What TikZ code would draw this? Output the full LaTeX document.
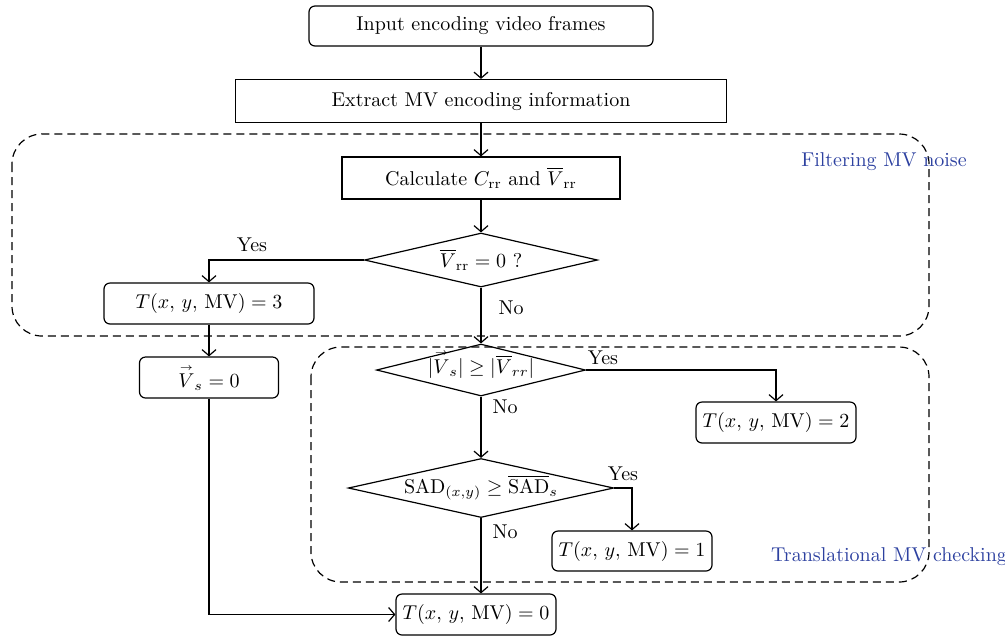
\documentclass[tikz,border=0pt]{standalone}
\usepackage{amsmath}
\usetikzlibrary{shapes.geometric,arrows.meta}
\definecolor{lblue}{RGB}{45,65,160}
\newcommand{\vecV}{\overset{\scriptscriptstyle\rightarrow}{V}}
\tikzset{
  every node/.style={font=\fontsize{10}{12}\selectfont},
  rbox/.style={draw, rounded corners=3pt, line width=0.6pt, inner sep=0pt, align=center},
  sbox/.style={draw, line width=0.6pt, inner sep=0pt, align=center},
  dec/.style={draw, diamond, aspect=4.5, inner sep=0pt, line width=0.6pt},
  arr/.style={line width=0.6pt, -{Straight Barb[length=3pt,width=7pt]}},
  grp/.style={draw, dash pattern=on 4pt off 2.5pt, line width=0.6pt, rounded corners=15pt},
  grplabel/.style={text=lblue, inner sep=0pt},
  yn/.style={inner sep=0pt}
}
\begin{document}
\begin{tikzpicture}[x=0.5pt,y=-0.5pt]
\useasboundingbox (0,0) rectangle (1005,639);
% group regions
\draw[grp] (12,134) rectangle (929,336);
\draw[grp] (311,347) rectangle (929,582);
\node[grplabel] (lf) at (884,162) {Filtering MV noise};
\node[grplabel] (lt) at (889,557) {Translational MV checking};
% nodes
\node[rbox, minimum width=172pt, minimum height=20pt] (in) at (481,26) {Input encoding video frames};
\node[sbox, minimum width=245.5pt, minimum height=21.5pt] (ex) at (481,101) {Extract MV encoding information};
\node[sbox, minimum width=139pt, minimum height=21pt] (calc) at (481,178) {Calculate $C_{\mathrm{rr}}$ and $\overline{V}_{\mathrm{rr}}$};
\node[dec, minimum width=116.5pt, minimum height=27pt] (d1) at (481,260) {$\overline{V}_{\mathrm{rr}} = 0$ ?};
\node[rbox, minimum width=105pt, minimum height=20.5pt] (t3) at (209,303.5) {$T(x,\,y,\,\mathrm{MV}) = 3$};
\node[rbox, minimum width=69.5pt, minimum height=20.5pt] (vs) at (209,377.5) {$\vecV_{s} = 0$};
\node[dec, minimum width=104.5pt, minimum height=26pt, text height=5pt, text depth=2pt] (d2) at (481,370) {$|\vecV_{s}| \geq |\overline{V}_{rr}|$};
\node[rbox, minimum width=80pt, minimum height=20.5pt] (t2) at (776,422.5) {$T(x,\,y,\,\mathrm{MV}) = 2$};
\node[dec, minimum width=128pt, minimum height=26pt] (d3) at (481,488) {$\mathrm{SAD}_{(x,y)} \geq \overline{\mathrm{SAD}}_s$};
\node[rbox, minimum width=80pt, minimum height=20pt] (t1) at (632,551) {$T(x,\,y,\,\mathrm{MV}) = 1$};
\node[rbox, minimum width=80pt, minimum height=20.5pt] (t0) at (476,614.5) {$T(x,\,y,\,\mathrm{MV}) = 0$};
% connectors
\draw[arr] (in) -- (ex);
\draw[arr] (ex) -- (calc);
\draw[arr] (calc) -- (d1);
\draw[arr] (d1.west) -| (t3.north);
\draw[arr] (t3.south) -- (vs.north);
\draw[arr] (d1.south) -- (d2.north);
\draw[arr] (d2.east) -| (t2.north);
\draw[arr] (d2.south) -- (d3.north);
\draw[arr] (d3.east) -| (t1.north);
\draw[arr] (d3.south) -- (d3.south |- t0.north);
\draw[arr] (vs.south) |- (t0.west);
% labels
\node[yn] (y1) at (252,245) {Yes};
\node[yn] (n1) at (511,308) {No};
\node[yn] (y2) at (603,358) {Yes};
\node[yn] (n2) at (505,407) {No};
\node[yn] (y3) at (623,474) {Yes};
\node[yn] (n3) at (505,532) {No};
\end{tikzpicture}
\end{document}
